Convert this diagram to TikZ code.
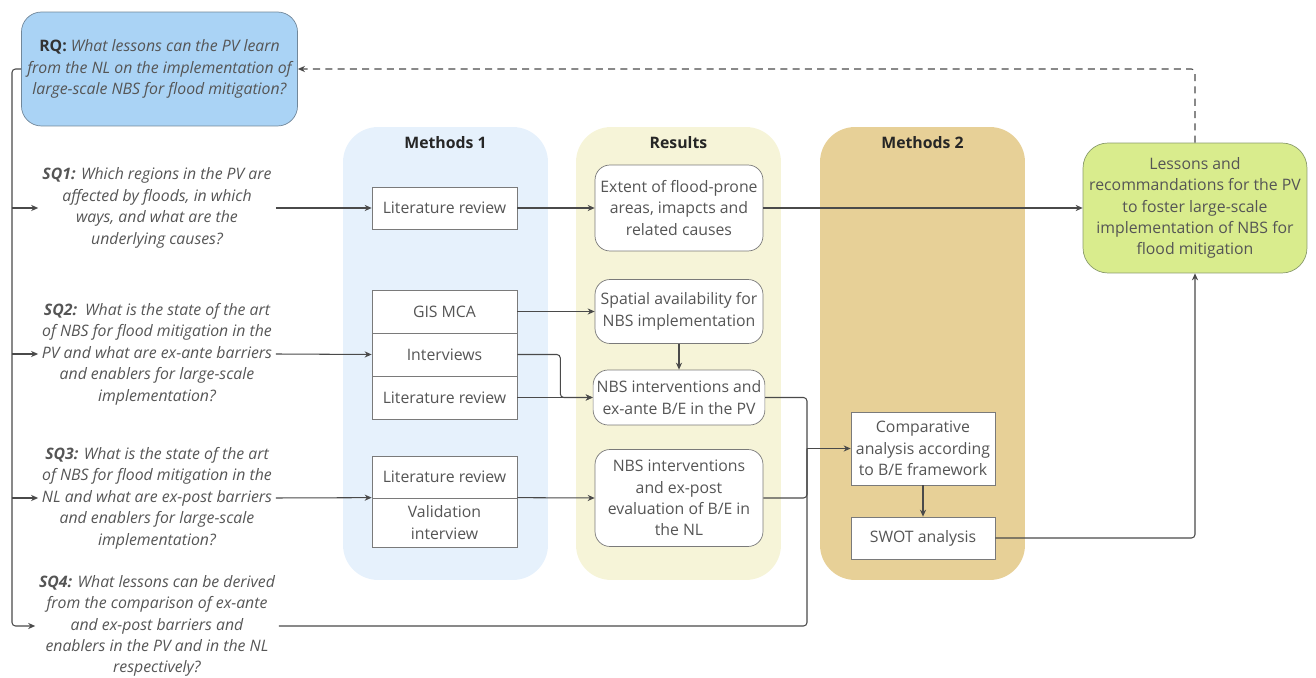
\documentclass[tikz,border=0pt]{standalone}
\usepackage{fontspec}
\setmainfont{Open Sans}
\usetikzlibrary{arrows.meta}
\usetikzlibrary{calc}
\definecolor{rqblue}{HTML}{AAD3F5}
\definecolor{rqedge}{HTML}{71879A}
\definecolor{methAbg}{HTML}{E6F1FC}
\definecolor{resbg}{HTML}{F6F4D8}
\definecolor{methBbg}{HTML}{E7D097}
\definecolor{lessgreen}{HTML}{D9EC8D}
\definecolor{lessedge}{HTML}{8A9B6C}
\definecolor{txtgray}{HTML}{555555}
\definecolor{linegray}{HTML}{4A4A4A}
\definecolor{boxedge}{HTML}{7A7A7A}

\begin{document}
\begin{tikzpicture}[x=0.02cm, y=-0.02cm,
    every node/.style={font=\fontsize{9}{12.2}\selectfont, text=txtgray, align=center},
    panel/.style={fill=#1, rounded corners=0.7cm, minimum width=4.1cm, minimum height=9.06cm},
    paneltitle/.style={font=\fontsize{9}{12.2}\selectfont\bfseries, text=black!85},
    methbox/.style={draw=boxedge, fill=white, minimum width=2.9cm, inner sep=2pt},
    resbox/.style={draw=boxedge, fill=white, rounded corners=0.3cm, minimum width=3.36cm, inner sep=2pt},
    question/.style={font=\fontsize{9}{12.2}\selectfont\itshape, minimum width=4.74cm, inner sep=2pt},
    line/.style={draw=linegray, line width=0.6pt, rounded corners=2pt},
    arr/.style={line, -{Stealth[length=4pt,width=3.5pt]}},
    dasharr/.style={arr, dash pattern=on 4pt off 3pt}]
            \useasboundingbox (0,0) rectangle (1316,678);

            \node[panel=methAbg] (meth1) at (445.5,353.5) {};
            \node[panel=resbg] (res) at (678.5,353.5) {};
            \node[panel=methBbg] (meth2) at (922.5,353.5) {};
            \node[paneltitle] (meth1title) at (445.5,143) {Methods 1};
            \node[paneltitle] (restitle) at (678.5,143) {Results};
            \node[paneltitle] (meth2title) at (922.5,143) {Methods 2};

            \node[draw=rqedge, fill=rqblue, rounded corners=0.4cm, minimum width=5.5cm, minimum height=2.28cm] (rq) at (159.5,69)
                {{\upshape\bfseries\color{black!80}RQ:} \itshape What lessons can the PV learn\\\itshape from the NL on the implementation of\\\itshape large-scale NBS for flood mitigation?};

            \node[question] (sq1) at (157,208) {{\bfseries SQ1:} Which regions in the PV are\\affected by floods, in which\\ways, and what are the\\underlying causes?};
            \node[question] (sq2) at (157,354) {{\bfseries SQ2:}\ \ What is the state of the art\\of NBS for flood mitigation in the\\PV and what are ex-ante barriers\\and enablers for large-scale\\implementation?};
            \node[question] (sq3) at (157,498) {{\bfseries SQ3:} What is the state of the art\\of NBS for flood mitigation in the\\NL and what are ex-post barriers\\and enablers for large-scale\\implementation?};
            \node[question] (sq4) at (157,626) {{\bfseries SQ4:} What lessons can be derived\\from the comparison of ex-ante\\and ex-post barriers and\\enablers in the PV and in the NL\\respectively?};

            \node[methbox, minimum height=0.84cm] (lit1) at (444.5,208) {Literature review};
            \node[methbox, minimum height=0.86cm] (gis) at (444.5,311.5) {GIS MCA};
            \node[methbox, minimum height=0.86cm] (intv) at (444.5,354.5) {Interviews};
            \node[methbox, minimum height=0.86cm] (lit2) at (444.5,397.5) {Literature review};
            \node[methbox, minimum height=0.84cm] (lit3) at (444.5,477) {Literature review};
            \node[methbox, minimum height=0.98cm] (valid) at (444.5,522.5) {Validation\\interview};

            \node[resbox, minimum height=1.72cm] (extent) at (679,208) {Extent of flood-prone\\areas, imapcts and\\related causes};
            \node[resbox, minimum height=1.28cm] (spatial) at (679,311.5) {Spatial availability for\\NBS implementation};
            \node[resbox, minimum height=1.1cm] (exante) at (679,397.5) {NBS interventions and\\ex-ante B/E in the PV};
            \node[resbox, minimum height=1.94cm] (expost) at (679,498) {NBS interventions\\and ex-post\\evaluation of B/E in\\the NL};

            \node[methbox, minimum width=2.88cm, minimum height=1.46cm] (comp) at (923,448.5) {Comparative\\analysis according\\to B/E framework};
            \node[methbox, minimum width=2.88cm, minimum height=0.84cm] (swot) at (923,538) {SWOT analysis};

            \node[draw=lessedge, fill=lessgreen, rounded corners=0.5cm, minimum width=4.48cm, minimum height=2.6cm] (green) at (1195,208)
                {Lessons and\\recommandations for the PV\\to foster large-scale\\implementation of NBS for\\flood mitigation};

            \coordinate (rail) at (12,0);
            \coordinate (bus) at (807,0);

            \draw[arr] (rq.west) -| (rail |- sq4.west) -- (sq4.west);
            \foreach \q in {sq1,sq2,sq3}
                \draw[arr] (rail |- \q.west) -- (\q.west);

            \draw[arr] (sq1.east) -- (lit1.west);
            \draw[arr] (lit1.east) -- (extent.west);
            \draw[arr] (extent.east) -- (green.west);
            \draw[arr] (sq2.east) -- (intv.west);
            \draw[arr] (gis.east) -- (spatial.west);
            \draw[arr] (intv.east) -- ++(43,0) |- (exante.west);
            \draw[arr] (lit2.east) -- (exante.west);
            \draw[arr] (spatial.south) -- (exante.north);
            \draw[arr] (sq3.east) -- (valid.north west);
            \draw[arr] (valid.north east) -- (expost.west);

            \draw[line] (exante.east) -| (bus |- comp.west);
            \draw[line] (expost.east) -| (bus |- comp.west);
            \draw[line] (sq4.east) -| (bus |- comp.west);
            \draw[arr] (bus |- comp.west) -- (comp.west);
            \draw[arr] (comp.south) -- (swot.north);
            \draw[arr] (swot.east) -| (green.south);
            \draw[dasharr] (green.north) |- (rq.east);
        \end{tikzpicture}
\end{document}
